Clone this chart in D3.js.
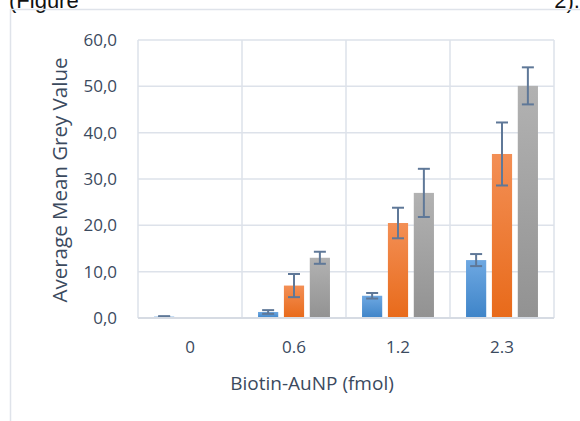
<!DOCTYPE html>
<html>
<head>
<meta charset="utf-8">
<script src="https://cdn.jsdelivr.net/npm/d3@7"></script>
<style>
  html, body { margin: 0; padding: 0; background: #fff; }
  svg { display: block; }
</style>
</head>
<body>
<svg id="chart" width="580" height="421"></svg>
<script>
// ---- data ----
const categories = ["0", "0.6", "1.2", "2.3"];
const seriesNames = ["Series1", "Series2", "Series3"];
const seriesBlue   = [0.3, 1.3, 4.8, 12.5];
const seriesOrange = [0.05, 7.0, 20.5, 35.4];
const seriesGray   = [0.05, 13.0, 27.0, 50.1];
const errBlue   = [0.1, 0.4, 0.6, 1.3];
const errOrange = [0.0, 2.5, 3.3, 6.8];
const errGray   = [0.0, 1.3, 5.2, 4.0];
const yTicks = [0, 10, 20, 30, 40, 50, 60];

const values = [seriesBlue, seriesOrange, seriesGray];
const errors = [errBlue, errOrange, errGray];
const gradients = [
  ["#6ea8e2", "#3e84c8"],
  ["#f38f55", "#e86a1a"],
  ["#b2b2b2", "#929292"]
];

const svg = d3.select("#chart");
const fontFam = "'Open Sans', 'Noto Sans', sans-serif";
const textCol = "#3b4a5e";
const gridCol = "#dde2ea";

// outer frame & surrounding text
svg.append("text").attr("x", 9).attr("y", 8).attr("font-family", "'Liberation Sans', Arial, sans-serif")
  .attr("font-size", 22).attr("fill", "#111").text("(Figure");
svg.append("text").attr("x", 580).attr("y", 8).attr("text-anchor", "end").attr("font-family", "'Liberation Sans', Arial, sans-serif")
  .attr("font-size", 22).attr("fill", "#111").text("2).");
svg.append("path").attr("d", "M10.5,421 V9.5 H580").attr("fill", "none").attr("stroke", "#dfe3ea").attr("stroke-width", 1.5);

const margin = { left: 138, right: 554, top: 40, bottom: 318 };
const x = d3.scaleBand().domain(categories).range([margin.left, margin.right]);
const y = d3.scaleLinear().domain([0, 60]).range([margin.bottom, margin.top]);

const defs = svg.append("defs");
gradients.forEach((g, i) => {
  const lg = defs.append("linearGradient").attr("id", "g" + i)
    .attr("x1", 0).attr("y1", 0).attr("x2", 0).attr("y2", 1);
  lg.append("stop").attr("offset", "0%").attr("stop-color", g[0]);
  lg.append("stop").attr("offset", "100%").attr("stop-color", g[1]);
});

// gridlines
const grid = svg.append("g");
yTicks.forEach(t => {
  grid.append("line").attr("x1", margin.left).attr("x2", margin.right)
    .attr("y1", y(t)).attr("y2", y(t)).attr("stroke", gridCol).attr("stroke-width", 1.5);
});
const bounds = categories.map(c => x(c)).concat([margin.right]);
bounds.forEach(b => {
  grid.append("line").attr("x1", b).attr("x2", b).attr("y1", margin.top).attr("y2", margin.bottom)
    .attr("stroke", gridCol).attr("stroke-width", 1.5);
});

// bars
const inner = d3.scaleBand().domain(seriesNames).range([0, x.bandwidth()]).paddingInner(0.22).paddingOuter(0.62);
values.forEach((vals, si) => {
  svg.append("g").selectAll("rect").data(vals).join("rect")
    .attr("x", (d, i) => x(categories[i]) + inner(seriesNames[si]))
    .attr("width", inner.bandwidth())
    .attr("y", d => y(d))
    .attr("height", d => y(0) - y(d))
    .attr("fill", `url(#g${si})`);
});

// error bars
const errCol = "#5f7898";
values.forEach((vals, si) => {
  const g = svg.append("g").attr("stroke", errCol).attr("stroke-width", 2);
  vals.forEach((v, i) => {
    const e = errors[si][i];
    if (e <= 0) return;
    const cx = x(categories[i]) + inner(seriesNames[si]) + inner.bandwidth() / 2;
    g.append("line").attr("x1", cx).attr("x2", cx).attr("y1", y(v + e)).attr("y2", y(v - e));
    [v + e, v - e].forEach(t => {
      g.append("line").attr("x1", cx - 6).attr("x2", cx + 6).attr("y1", y(t)).attr("y2", y(t));
    });
  });
});

// x axis line
svg.append("line").attr("x1", margin.left).attr("x2", margin.right)
  .attr("y1", y(0)).attr("y2", y(0)).attr("stroke", "#d6dbe3").attr("stroke-width", 2);

// y tick labels
const fmt = d => d3.format(".1f")(d).replace(".", ",");
svg.append("g").selectAll("text").data(yTicks).join("text")
  .attr("x", 117).attr("y", d => y(d)).attr("dy", "0.36em")
  .attr("text-anchor", "end").attr("font-family", fontFam).attr("font-size", 17)
  .attr("fill", textCol).text(fmt);

// x tick labels
svg.append("g").selectAll("text").data(categories).join("text")
  .attr("x", d => x(d) + x.bandwidth() / 2).attr("y", 353)
  .attr("text-anchor", "middle").attr("font-family", fontFam).attr("font-size", 17)
  .attr("fill", textCol).text(d => d);

// axis titles
svg.append("text").attr("x", 312).attr("y", 390).attr("text-anchor", "middle")
  .attr("font-family", fontFam).attr("font-size", 19).attr("fill", textCol).text("Biotin-AuNP (fmol)");
svg.append("text").attr("transform", "translate(67,180) rotate(-90)").attr("text-anchor", "middle")
  .attr("font-family", fontFam).attr("font-size", 20.5).attr("fill", textCol).text("Average Mean Grey Value");
</script>
</body>
</html>
